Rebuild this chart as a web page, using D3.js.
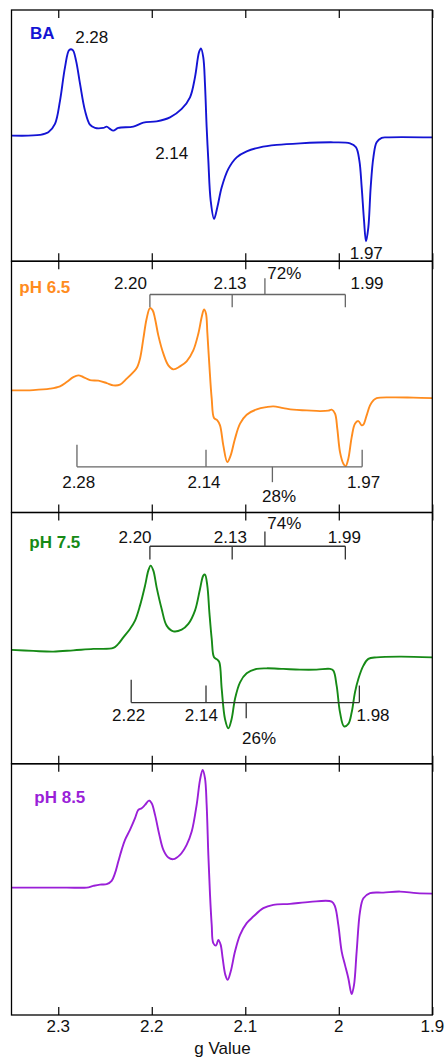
<!DOCTYPE html>
<html>
<head>
<meta charset="utf-8">
<script src="https://cdn.jsdelivr.net/npm/d3@7"></script>
<style>
  html, body { margin: 0; padding: 0; background: #fff; }
  svg { display: block; font-family: "Liberation Sans", Arial, Helvetica, sans-serif; }
</style>
</head>
<body>
<svg id="chart" width="445" height="1061"></svg>
<script>
// ---------------- DATA ----------------
const gTicks = [2.3, 2.2, 2.1, 2.0, 1.9];
const tickLabels = ["2.3", "2.2", "2.1", "2", "1.9"];
const xTitle = "g Value";
const panelNames = ["BA", "pH 6.5", "pH 7.5", "pH 8.5"];

// spectra: [g value, intensity (arb. units)]
const spectrumBA = [
  [2.3500,0],[2.3195,0.7],[2.3106,3.3],[2.3035,11.7],[2.2981,35],[2.2928,68.3],[2.2882,85.7],[2.2846,85.7],
  [2.2810,75],[2.2767,51.7],[2.2714,25],[2.2661,11],[2.2607,7.7],[2.2518,7.7],[2.2482,9],[2.2447,6.7],
  [2.2411,5],[2.2358,7.7],[2.2197,9],[2.2090,13],[2.1948,14.3],[2.1805,18.3],[2.1680,26.7],[2.1591,38.3],
  [2.1538,58.3],[2.1495,83.3],[2.1474,87.3],[2.1449,78.3],[2.1431,51.7],[2.1413,8.3],[2.1395,-25],[2.1370,-65],
  [2.1334,-83.3],[2.1299,-71.7],[2.1252,-51.7],[2.1181,-33.3],[2.1092,-21.7],[2.0985,-15.7],[2.0843,-11.7],
  [2.0664,-9.3],[2.0415,-7.7],[2.0058,-6.7],[1.9880,-7.7],[1.9816,-11.7],[1.9780,-25],[1.9755,-51.7],
  [1.9730,-85],[1.9709,-105.7],[1.9684,-91.7],[1.9659,-51.7],[1.9630,-21.7],[1.9595,-6.7],[1.9541,-2.3],
  [1.9488,-1.7],[1.9000,-1.7]
];
const spectrumPH65 = [
  [2.3500,-3.5],[2.3267,-3.2],[2.3088,-1.8],[2.2981,0.5],[2.2910,4.8],[2.2839,9.8],[2.2785,11.5],[2.2732,9.8],
  [2.2661,6.8],[2.2571,6.2],[2.2482,3.8],[2.2411,1.5],[2.2340,2.2],[2.2268,8.2],[2.2197,14.8],[2.2161,18.8],
  [2.2126,28.2],[2.2090,48.2],[2.2055,68.2],[2.2019,78.8],[2.1990,76.5],[2.1965,68.2],[2.1930,51.5],
  [2.1876,33.2],[2.1823,21.5],[2.1769,17.5],[2.1698,20.5],[2.1627,25.5],[2.1556,36.5],[2.1502,53.2],
  [2.1466,69.8],[2.1441,77.5],[2.1420,73.2],[2.1406,54.8],[2.1384,21.5],[2.1359,-11.8],[2.1334,-31.2],
  [2.1299,-33.5],[2.1270,-38.5],[2.1235,-58.5],[2.1192,-75.2],[2.1156,-68.5],[2.1110,-51.8],[2.1056,-36.8],
  [2.0985,-27.8],[2.0878,-22.5],[2.0771,-20.2],[2.0700,-19.5],[2.0593,-21.2],[2.0486,-22.8],[2.0343,-23.5],
  [2.0201,-24.2],[2.0112,-23.8],[2.0076,-22.8],[2.0040,-26.8],[2.0016,-41.8],[1.9987,-65.2],[1.9951,-76.8],
  [1.9926,-79.2],[1.9898,-71.8],[1.9862,-50.2],[1.9827,-36.8],[1.9791,-34.2],[1.9755,-38.5],[1.9737,-37.8],
  [1.9702,-28.5],[1.9666,-18.5],[1.9630,-13.5],[1.9595,-11.2],[1.9417,-10.5],[1.9203,-10.8],[1.9000,-11.2]
];
const spectrumPH75 = [
  [2.3500,-11.8],[2.3267,-12.8],[2.3053,-13.5],[2.2839,-12.2],[2.2625,-10.8],[2.2411,-9.8],[2.2358,-5.8],
  [2.2304,0.8],[2.2233,9.2],[2.2179,17.5],[2.2126,32.5],[2.2072,52.5],[2.2037,67.5],[2.2012,72.5],[2.1983,67.5],
  [2.1948,50.8],[2.1894,29.2],[2.1841,12.5],[2.1769,6.8],[2.1680,8.5],[2.1609,14.2],[2.1538,27.5],[2.1484,49.2],
  [2.1449,62.5],[2.1431,63.5],[2.1406,52.5],[2.1384,25.8],[2.1359,-0.8],[2.1334,-19.2],[2.1299,-21.5],
  [2.1277,-24.2],[2.1252,-50.8],[2.1217,-80.8],[2.1181,-90.2],[2.1146,-80.8],[2.1110,-60.8],[2.1056,-44.2],
  [2.0985,-35.2],[2.0878,-30.8],[2.0771,-30.2],[2.0593,-30.8],[2.0415,-31.5],[2.0237,-31.5],[2.0094,-30.8],
  [2.0058,-32.5],[2.0023,-47.5],[1.9987,-74.2],[1.9944,-88.2],[1.9898,-85.8],[1.9862,-74.2],[1.9827,-54.2],
  [1.9791,-40.8],[1.9737,-27.5],[1.9684,-20.8],[1.9595,-19.2],[1.9345,-18.5],[1.9000,-19.2]
];
const spectrumPH85 = [
  [2.3500,1.8],[2.3267,1.8],[2.2910,1.8],[2.2696,1.8],[2.2625,3.5],[2.2554,4.8],[2.2482,5.2],[2.2429,8.5],
  [2.2393,16.2],[2.2358,27.8],[2.2322,39.5],[2.2286,49.5],[2.2233,59.5],[2.2179,71.2],[2.2144,79.5],
  [2.2108,81.2],[2.2072,84.5],[2.2030,88.8],[2.2001,86.2],[2.1965,74.5],[2.1919,54.5],[2.1876,39.5],
  [2.1823,31.8],[2.1769,30.2],[2.1698,34.5],[2.1627,44.5],[2.1573,57.8],[2.1520,84.5],[2.1484,109.5],
  [2.1456,119.5],[2.1431,111.2],[2.1413,84.5],[2.1395,34.5],[2.1377,-5.5],[2.1359,-35.5],[2.1342,-53.8],
  [2.1313,-56.2],[2.1288,-50.5],[2.1263,-55.5],[2.1242,-68.8],[2.1213,-85.5],[2.1188,-90.5],[2.1156,-82.2],
  [2.1110,-62.2],[2.1056,-45.5],[2.0985,-33.8],[2.0914,-27.2],[2.0807,-18.8],[2.0700,-15.5],[2.0522,-14.5],
  [2.0308,-12.5],[2.0076,-12.2],[2.0040,-17.2],[2.0005,-35.5],[1.9969,-62.2],[1.9934,-75.5],[1.9898,-88.8],
  [1.9862,-104.8],[1.9837,-95.5],[1.9809,-62.2],[1.9773,-22.2],[1.9737,-8.8],[1.9666,-3.8],[1.9524,-3.2],
  [1.9345,-2.2],[1.9167,-3.8],[1.9000,-4.2]
];
const spectra = [spectrumBA, spectrumPH65, spectrumPH75, spectrumPH85];

// peak labels: [panel index, text, g, intensity]
const peakLabels = [
  [0, "2.28", 2.2642, 92.8], [0, "2.14", 2.1787, -23.2], [0, "1.97", 1.9706, -123.2],
  [1, "2.20", 2.2228, 97.4], [1, "2.13", 2.1163, 97.4], [1, "1.99", 1.9698, 97.4], [1, "72%", 2.0582, 107.4],
  [1, "2.28", 2.2781, -100.9], [1, "2.14", 2.1441, -100.9], [1, "1.97", 1.9734, -100.9], [1, "28%", 2.0639, -115.3],
  [2, "2.20", 2.2179, 95.3], [2, "2.13", 2.1160, 95.3], [2, "1.99", 1.9941, 95.3], [2, "74%", 2.0582, 109.3],
  [2, "2.22", 2.2247, -82.4], [2, "2.14", 2.1470, -82.4], [2, "1.98", 1.9634, -82.4], [2, "26%", 2.0853, -105.7]
];
// brackets: panel, line level, g of component ticks, tick end level(s), g of centre tick, centre tick end level
const brackets = [
  { panel: 1, level: 92.4,  gs: [2.202, 2.114, 1.993], tickEnd: [79.7, 79.7, 79.7], gMid: 2.079, midEnd: 108.7 },
  { panel: 1, level: -79.9, gs: [2.280, 2.142, 1.975], tickEnd: [-57.9, -62.9, -62.9], gMid: 2.071, midEnd: -95.3 },
  { panel: 2, level: 91.9,  gs: [2.202, 2.114, 1.993], tickEnd: [78.6, 78.6, 78.6], gMid: 2.079, midEnd: 106.6 },
  { panel: 2, level: -64.4, gs: [2.222, 2.142, 1.978], tickEnd: [-41.7, -47.4, -47.4], gMid: 2.099, midEnd: -80.1 }
];

// ---------------- STYLE / LAYOUT ----------------
const colors = ["#1414d4", "#ff8c1e", "#168a16", "#9a1fd8"];
const bracketColors = ["#666", "#666", "#333", "#333"];
const plotLeft = 11.5, plotRight = 432.3, plotTop = 10, panelH = 251.25;
const svg = d3.select("#chart");

const x = d3.scaleLinear().domain([2.35, 1.9]).range([plotLeft, plotRight]);

spectra.forEach((data, i) => {
  const pTop = plotTop + i * panelH, pBot = pTop + panelH;
  const y = d3.scaleLinear().domain([-panelH / 2, panelH / 2]).range([pBot, pTop]);
  const g = svg.append("g");

  // curve
  g.append("path")
    .datum(data)
    .attr("fill", "none")
    .attr("stroke", colors[i])
    .attr("stroke-width", 1.9)
    .attr("stroke-linejoin", "round")
    .attr("d", d3.line().x(d => x(d[0])).y(d => y(d[1])).curve(d3.curveCatmullRom.alpha(0.5)));

  // ticks (top inward and bottom inward)
  const axTop = d3.axisTop(x).tickValues(gTicks).tickSize(-8).tickFormat("");
  const axBot = d3.axisBottom(x).tickValues(gTicks).tickSize(-8).tickFormat("");
  [[axTop, pTop], [axBot, pBot]].forEach(([ax, yy]) => {
    const a = g.append("g").attr("transform", `translate(0,${yy})`).call(ax);
    a.select(".domain").remove();
    a.selectAll("line").attr("stroke", "#000").attr("stroke-width", 1.2);
  });

  // frame
  g.append("rect")
    .attr("x", plotLeft).attr("y", pTop)
    .attr("width", plotRight - plotLeft).attr("height", panelH)
    .attr("fill", "none").attr("stroke", "#000").attr("stroke-width", 1.3);

  // panel name
  const nameX = [30, 19.3, 29.3, 34.3][i];
  const nameY = [29.3, 32.0, 35.8, 39.0][i];
  g.append("text")
    .attr("x", nameX).attr("y", pTop + nameY)
    .attr("fill", colors[i])
    .attr("font-weight", "bold")
    .attr("font-size", 17)
    .text(panelNames[i]);

  // brackets
  brackets.filter(b => b.panel === i).forEach(b => {
    const bc = bracketColors[i];
    g.append("line")
      .attr("x1", x(b.gs[0])).attr("x2", x(b.gs[b.gs.length - 1]))
      .attr("y1", y(b.level)).attr("y2", y(b.level))
      .attr("stroke", bc).attr("stroke-width", 1.3);
    b.gs.forEach((gv, k) => {
      g.append("line")
        .attr("x1", x(gv)).attr("x2", x(gv))
        .attr("y1", y(b.level)).attr("y2", y(b.tickEnd[k]))
        .attr("stroke", bc).attr("stroke-width", 1.3);
    });
    g.append("line")
      .attr("x1", x(b.gMid)).attr("x2", x(b.gMid))
      .attr("y1", y(b.level)).attr("y2", y(b.midEnd))
      .attr("stroke", bc).attr("stroke-width", 1.3);
  });

  // peak labels
  peakLabels.filter(p => p[0] === i).forEach(p => {
    g.append("text")
      .attr("x", x(p[2])).attr("y", y(p[3]))
      .attr("text-anchor", "middle")
      .attr("font-size", 17)
      .attr("fill", "#111")
      .text(p[1]);
  });
});

// x axis labels at the bottom
const bottomY = plotTop + 4 * panelH;
svg.append("g").selectAll("text")
  .data(gTicks)
  .join("text")
  .attr("x", d => x(d))
  .attr("y", bottomY + 17.3)
  .attr("text-anchor", "middle")
  .attr("font-size", 17)
  .attr("fill", "#111")
  .text((d, i) => tickLabels[i]);

svg.append("text")
  .attr("x", 222.5).attr("y", bottomY + 39)
  .attr("text-anchor", "middle")
  .attr("font-size", 17)
  .attr("fill", "#111")
  .text(xTitle);
</script>
</body>
</html>
